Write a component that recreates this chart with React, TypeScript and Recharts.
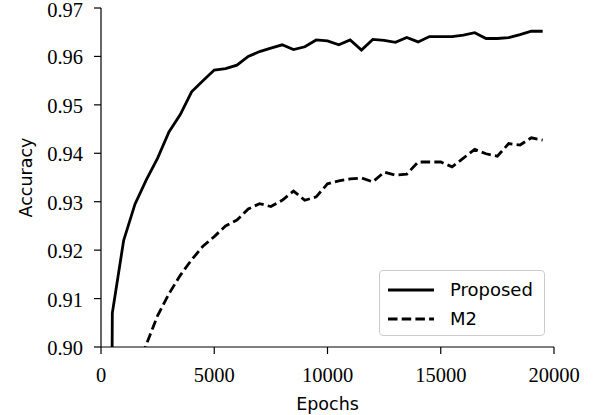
import { LineChart, Line, XAxis, YAxis, Legend } from 'recharts';

// ── Data ─────────────────────────────────────────────────
const epochs = [
  0, 500, 1000, 1500, 2000, 2500, 3000, 3500, 4000, 4500,
  5000, 5500, 6000, 6500, 7000, 7500, 8000, 8500, 9000, 9500,
  10000, 10500, 11000, 11500, 12000, 12500, 13000, 13500, 14000, 14500,
  15000, 15500, 16000, 16500, 17000, 17500, 18000, 18500, 19000, 19500,
];

const proposed = [
  0.5, 0.907, 0.922, 0.9295, 0.9345, 0.939, 0.9444, 0.948, 0.9527, 0.955,
  0.9572, 0.9575, 0.9582, 0.96, 0.961, 0.9617, 0.9624, 0.9614, 0.962, 0.9634,
  0.9632, 0.9624, 0.9634, 0.9613, 0.9635, 0.9633, 0.9629, 0.9639, 0.963, 0.9641,
  0.9641, 0.9641, 0.9644, 0.9649, 0.9637, 0.9637, 0.9639, 0.9645, 0.9652, 0.9652,
];

const m2 = [
  0.5, 0.85, 0.88, 0.894, 0.9005, 0.9065, 0.911, 0.9148, 0.918, 0.9208,
  0.9228, 0.925, 0.9262, 0.9285, 0.9296, 0.929, 0.9303, 0.9322, 0.9303, 0.931,
  0.9337, 0.9343, 0.9347, 0.9349, 0.9341, 0.9361, 0.9355, 0.9357, 0.9382, 0.9382,
  0.9382, 0.9372, 0.939, 0.9408, 0.9399, 0.9394, 0.942, 0.9417, 0.9432, 0.9427,
];

const seriesOrder = ['Proposed', 'M2'];
const xTicks = [0, 5000, 10000, 15000, 20000];
const yTicks = [0.9, 0.91, 0.92, 0.93, 0.94, 0.95, 0.96, 0.97];

const data = epochs.map((e, i) => ({ epoch: e, proposed: proposed[i], m2: m2[i] }));

const SERIF = '"Liberation Serif", "Times New Roman", serif';
const SANS = '"DejaVu Sans", sans-serif';
const TICK_FONT = 20.5;

// ── Ticks ────────────────────────────────────────────────
function XTick({ x, y, payload }: any) {
  return (
    <text
      x={x}
      y={y}
      dy={TICK_FONT * 0.71}
      textAnchor="middle"
      fill="#000"
      fontSize={TICK_FONT}
      fontFamily={SERIF}
    >
      {payload.value}
    </text>
  );
}

function YTick({ x, y, payload }: any) {
  return (
    <text
      x={x}
      y={y}
      dy={TICK_FONT * 0.34 + 1}
      textAnchor="end"
      fill="#000"
      fontSize={TICK_FONT}
      fontFamily={SERIF}
    >
      {Number(payload.value).toFixed(2)}
    </text>
  );
}

// ── Legend ───────────────────────────────────────────────
function LegendBox({ payload }: { payload?: any[] }) {
  const items = [...(payload ?? [])].sort(
    (a, b) => seriesOrder.indexOf(a.value) - seriesOrder.indexOf(b.value)
  );
  return (
    <div
      style={{
        border: '1px solid #cccccc',
        borderRadius: 4,
        background: '#fff',
        padding: '4px 8px',
        boxSizing: 'border-box',
        width: 166,
        height: 66,
      }}
    >
      {items.map((entry) => (
        <div
          key={entry.value}
          style={{ display: 'flex', alignItems: 'center', height: 29 }}
        >
          <svg width={46} height={10}>
            <line
              x1={0}
              y1={5}
              x2={46}
              y2={5}
              stroke="#000"
              strokeWidth={2.8}
              strokeDasharray={entry.payload?.strokeDasharray}
            />
          </svg>
          <span style={{ marginLeft: 16, fontFamily: SANS, fontSize: 18, color: '#000' }}>
            {entry.value}
          </span>
        </div>
      ))}
    </div>
  );
}

// ── Chart ────────────────────────────────────────────────
export default function App() {
  return (
    <div style={{ position: 'absolute', left: 0, top: 0, background: '#fff' }}>
      <LineChart
        width={595}
        height={415}
        data={data}
        margin={{ top: 8, right: 41, bottom: 8, left: 0 }}
      >
        <XAxis
          dataKey="epoch"
          type="number"
          domain={[0, 20000]}
          ticks={xTicks}
          height={60}
          tick={<XTick />}
          tickSize={7}
          tickMargin={13}
          stroke="#000"
          strokeWidth={1.2}
          label={{
            value: 'Epochs',
            position: 'insideBottom',
            offset: -3,
            style: { fill: '#000', fontSize: 17.5, fontFamily: SANS },
          }}
        />
        <XAxis
          xAxisId="top"
          dataKey="epoch"
          type="number"
          domain={[0, 20000]}
          orientation="top"
          tick={false}
          tickLine={false}
          height={0}
          stroke="#000"
          strokeWidth={1.2}
        />
        <YAxis
          type="number"
          domain={[0.9, 0.97]}
          ticks={yTicks}
          allowDataOverflow
          width={101}
          tick={<YTick />}
          tickSize={7}
          tickMargin={11}
          stroke="#000"
          strokeWidth={1.2}
          label={{
            value: 'Accuracy',
            angle: -90,
            position: 'insideLeft',
            offset: 25.5,
            style: { fill: '#000', fontSize: 17.5, fontFamily: SANS, textAnchor: 'middle' },
          }}
        />
        <YAxis
          yAxisId="right"
          orientation="right"
          domain={[0.9, 0.97]}
          tick={false}
          tickLine={false}
          width={0}
          stroke="#000"
          strokeWidth={1.2}
        />
        <Line
          dataKey="proposed"
          name="Proposed"
          type="linear"
          stroke="#000"
          strokeWidth={2.8}
          dot={false}
          isAnimationActive={false}
        />
        <Line
          dataKey="m2"
          name="M2"
          type="linear"
          stroke="#000"
          strokeWidth={2.8}
          strokeDasharray="9.5 4.2"
          dot={false}
          isAnimationActive={false}
        />
        <Legend
          layout="horizontal"
          verticalAlign="middle"
          align="center"
          content={(props: any) => <LegendBox payload={props.payload} />}
          wrapperStyle={{ position: 'absolute', left: 379, top: 270, width: 166, height: 66 }}
        />
      </LineChart>
    </div>
  );
}
